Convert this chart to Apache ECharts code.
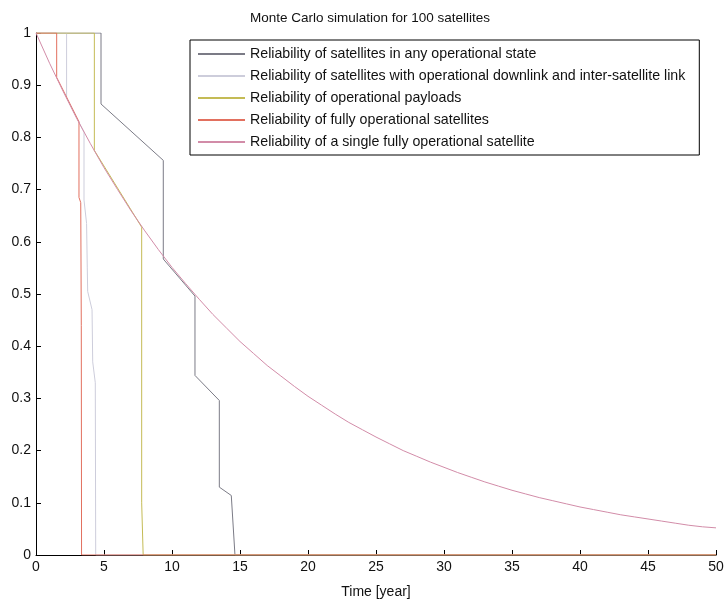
<!DOCTYPE html>
<html>
<head>
<meta charset="utf-8">
<script src="https://cdn.jsdelivr.net/npm/echarts@6/dist/echarts.min.js"></script>
<style>
  html, body { margin: 0; padding: 0; background: #ffffff; }
  #chart { width: 727px; height: 604px; }
</style>
</head>
<body>
<div id="chart"></div>
<script>
// Monte Carlo reliability curves for a constellation of 100 satellites.
const chartTitle = 'Monte Carlo simulation for 100 satellites';
const xAxisTitle = 'Time [year]';

const seriesNames = [
  'Reliability of satellites in any operational state',
  'Reliability of satellites with operational downlink and inter-satellite link',
  'Reliability of operational payloads',
  'Reliability of fully operational satellites',
  'Reliability of a single fully operational satellite'
];

// [time (years), reliability] samples
const anyStatePoints = [
  [0, 1], [4.78, 1], [4.78, 0.864], [9.36, 0.756], [9.36, 0.567],
  [11.69, 0.496], [11.69, 0.344], [13.48, 0.296], [13.48, 0.13],
  [14.36, 0.114], [14.63, 0], [50, 0]
];
const downlinkIslPoints = [
  [0, 1], [2.25, 1], [2.25, 0.876], [3.53, 0.81], [3.53, 0.68],
  [3.72, 0.635], [3.77, 0.55], [3.8, 0.505], [4.12, 0.47], [4.17, 0.37],
  [4.36, 0.33], [4.39, 0], [50, 0]
];
const payloadPoints = [
  [0, 1], [4.29, 1], [4.29, 0.775], [7.77, 0.628], [7.77, 0.1],
  [7.88, 0], [50, 0]
];
const fullyOperationalPoints = [
  [0, 1], [1.52, 1], [1.52, 0.915], [3.16, 0.83], [3.16, 0.685],
  [3.29, 0.675], [3.33, 0.44], [3.35, 0], [50, 0]
];
const singleSatYears = [
  0, 1, 2, 3, 4, 5, 6, 7, 8, 9, 10, 11, 12, 13, 14, 15, 16, 17, 18, 19, 20,
  21, 22, 23, 24, 25, 26, 27, 28, 29, 30, 31, 32, 33, 34, 35, 36, 37, 38, 39, 40,
  41, 42, 43, 44, 45, 46, 47, 48, 49, 50
];
const singleSatReliability = [
  1.000, 0.942, 0.888, 0.836, 0.788, 0.742, 0.700, 0.659, 0.621, 0.585, 0.551,
  0.520, 0.490, 0.461, 0.435, 0.409, 0.386, 0.363, 0.343, 0.323, 0.304,
  0.287, 0.270, 0.254, 0.240, 0.226, 0.213, 0.200, 0.189, 0.178, 0.168,
  0.158, 0.149, 0.140, 0.132, 0.124, 0.117, 0.110, 0.104, 0.098, 0.092,
  0.087, 0.082, 0.077, 0.073, 0.069, 0.065, 0.061, 0.057, 0.054, 0.052
];

const seriesColors = ['#7b7b86', '#cdcddb', '#c4bb55', '#e2705f', '#d28ca8'];
const fontFamily = '"Liberation Sans", Arial, Helvetica, sans-serif';

const seriesData = [
  anyStatePoints,
  downlinkIslPoints,
  payloadPoints,
  fullyOperationalPoints,
  singleSatYears.map((t, i) => [t, singleSatReliability[i]])
];

const chart = echarts.init(document.getElementById('chart'), null, { renderer: 'canvas' });

chart.setOption({
  backgroundColor: '#ffffff',
  animation: false,
  title: {
    text: chartTitle,
    left: 245,
    top: 6,
    textStyle: { fontFamily, fontSize: 13.5, fontWeight: 'normal', color: '#111' }
  },
  grid: { left: 36, right: 11, top: 33, bottom: 47, containLabel: false },
  legend: {
    orient: 'vertical',
    left: 190,
    top: 40,
    padding: [6, 14, 5, 7],
    itemGap: 6,
    itemWidth: 47,
    itemHeight: 14,
    borderColor: '#000',
    borderWidth: 1,
    backgroundColor: '#fff',
    // only the line sample is shown next to each entry, no marker
    itemStyle: { opacity: 0 },
    textStyle: { fontFamily, fontSize: 14.2, color: '#111', lineHeight: 16 },
    data: seriesNames
  },
  xAxis: {
    type: 'value',
    min: 0,
    max: 50,
    interval: 5,
    name: xAxisTitle,
    nameLocation: 'middle',
    nameGap: 30,
    nameTextStyle: { fontFamily, fontSize: 14, color: '#111' },
    axisLine: { lineStyle: { color: '#000', width: 1 } },
    axisTick: { inside: true, length: 5, lineStyle: { color: '#000' } },
    axisLabel: { fontFamily, fontSize: 14, color: '#111', margin: 5 },
    splitLine: { show: false }
  },
  yAxis: {
    type: 'value',
    min: 0,
    max: 1,
    interval: 0.1,
    axisLine: { show: true, lineStyle: { color: '#000', width: 1 } },
    axisTick: { show: true, inside: true, length: 5, lineStyle: { color: '#000' } },
    axisLabel: { fontFamily, fontSize: 14, color: '#111', margin: 5 },
    splitLine: { show: false }
  },
  series: seriesNames.map((name, i) => ({
    name,
    type: 'line',
    data: seriesData[i],
    showSymbol: false,
    symbol: 'none',
    lineStyle: { color: seriesColors[i], width: 1 },
    itemStyle: { color: seriesColors[i] },
    z: 2 + i
  }))
});
</script>
</body>
</html>
